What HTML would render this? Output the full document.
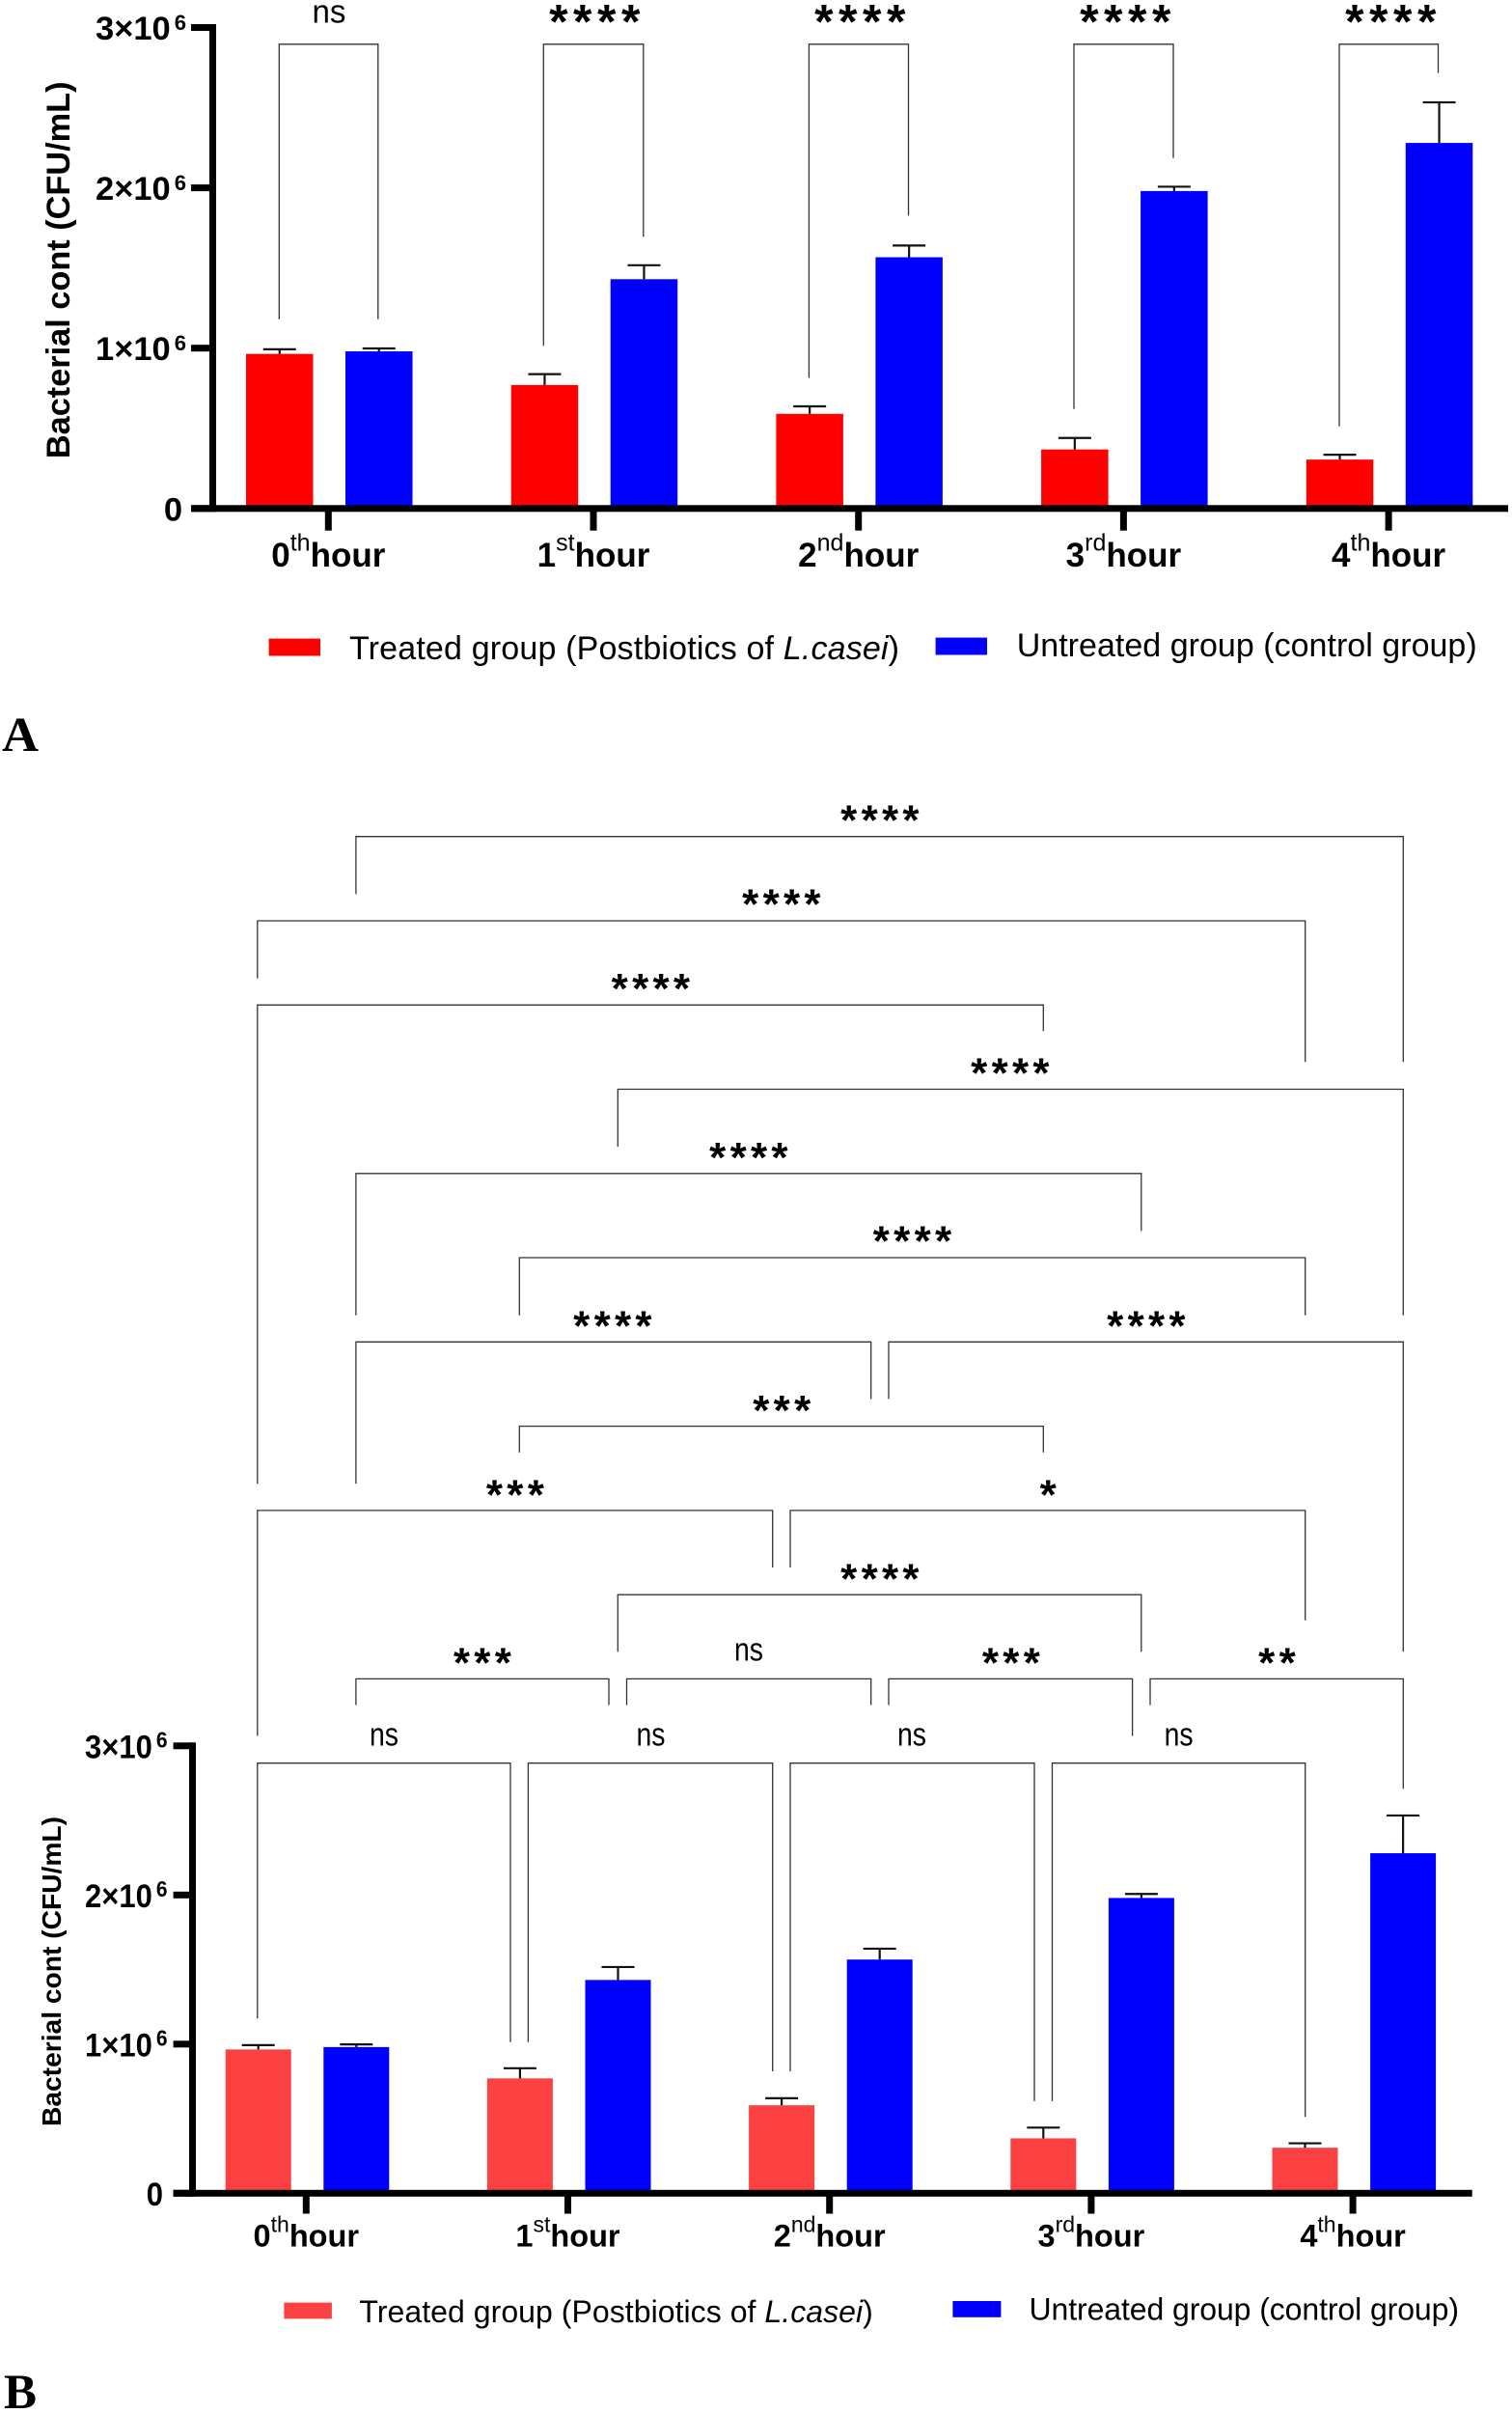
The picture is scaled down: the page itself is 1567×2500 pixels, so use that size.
<!DOCTYPE html>
<html lang="en">
<head>
<meta charset="utf-8">
<title>Bacterial count: treated vs untreated</title>
<style>
html,body{margin:0;padding:0;background:#fff;}
svg{display:block;font-family:"Liberation Sans",Arial,sans-serif;}
.br{fill:none;stroke:#333;stroke-width:1.3;}
.sa{font-size:50px;font-weight:700;letter-spacing:5.5px;text-anchor:middle;fill:#000;}
.sb{font-size:44px;font-weight:700;letter-spacing:4.3px;text-anchor:middle;fill:#000;transform:translateY(-2.5px);}
.ns{font-size:34px;text-anchor:middle;fill:#000;}
.leg{fill:#000;}
.panel{font-family:"Liberation Serif",serif;font-weight:700;font-size:51px;fill:#000;}
</style>
</head>
<body>
<svg id="fig" xmlns="http://www.w3.org/2000/svg" width="1567" height="2500" viewBox="0 0 1567 2500">
<rect x="0" y="0" width="1567" height="2500" fill="#fff"/>
<g id="chartA"></g>
<g id="chartB"></g>

<g>
<path class="br" d="M289.3 330.8V45.8H391.8V330.8"/>
<text class="ns" x="341" y="23.4" textLength="35" lengthAdjust="spacingAndGlyphs">ns</text>
<path class="br" d="M563.3 358.2V45.8H666.8V245.2"/>
<text class="sa" x="619" y="39.4">****</text>
<path class="br" d="M838.4 391.5V45.8H941.5V223.4"/>
<text class="sa" x="894" y="39.4">****</text>
<path class="br" d="M1113 423.8V45.8H1216V163.7"/>
<text class="sa" x="1169" y="39.4">****</text>
<path class="br" d="M1388 441.7V45.8H1490.5V75.6"/>
<text class="sa" x="1444" y="39.4">****</text>
</g>

<g>
<rect x="278.6" y="661.6" width="53.4" height="17.9" fill="#ff0000"/>
<text class="leg" x="362" y="683" font-size="34" textLength="570">Treated group (Postbiotics of <tspan font-style="italic">L.casei</tspan>)</text>
<rect x="969.6" y="660.6" width="53.4" height="17.9" fill="#0000ff"/>
<text class="leg" x="1053.7" y="680" font-size="34" textLength="477">Untreated group (control group)</text>
</g>
<text class="panel" x="2" y="778" textLength="38" lengthAdjust="spacingAndGlyphs">A</text>

<g>
<path class="br" d="M368.9 926.3V866.7H1454.3V1100.3"/>
<text class="sb" x="914" y="866.9">****</text>
<path class="br" d="M266.8 1013.6V954H1352.7V1100.3"/>
<text class="sb" x="812" y="954.1">****</text>
<path class="br" d="M266.8 1537.2V1041.2H1081.3V1068.3"/>
<text class="sb" x="676.5" y="1041.4">****</text>
<path class="br" d="M640.3 1188.1V1128.5H1454.3V1362.7"/>
<text class="sb" x="1049" y="1129.2">****</text>
<path class="br" d="M368.9 1362.7V1215.8H1182.8V1275.4"/>
<text class="sb" x="778" y="1216.5">****</text>
<path class="br" d="M538.3 1362.7V1303H1352.7V1362.7"/>
<text class="sb" x="947.6" y="1303.2">****</text>
<path class="br" d="M368.9 1537.2V1390.3H902.7V1449.4"/>
<text class="sb" x="637" y="1391.1">****</text>
<path class="br" d="M921 1449.4V1390.3H1454.3V1711.3"/>
<text class="sb" x="1190" y="1391.1">****</text>
<path class="br" d="M538.3 1504.7V1477.6H1081.3V1504.7"/>
<text class="sb" x="812.4" y="1478.3">***</text>
<path class="br" d="M266.8 1798.5V1564.9H800.7V1624"/>
<text class="sb" x="536" y="1566.2">***</text>
<path class="br" d="M819 1624V1564.9H1352.7V1678.7"/>
<text class="sb" x="1088.4" y="1566.2">*</text>
<path class="br" d="M640.3 1711.3V1652.2H1182.8V1711.3"/>
<text class="sb" x="914" y="1652.9">****</text>
<path class="br" d="M368.9 1766.5V1739.4H631V1766.5"/>
<text class="sb" x="502" y="1740.2">***</text>
<path class="br" d="M649.5 1766.5V1739.4H902.7V1766.5"/>
<text class="ns" x="776" y="1720.5" textLength="30" lengthAdjust="spacingAndGlyphs">ns</text>
<path class="br" d="M921 1766.5V1739.4H1173.6V1798.5"/>
<text class="sb" x="1050" y="1740.2">***</text>
<path class="br" d="M1192 1766.5V1739.4H1454.3V1853.3"/>
<text class="sb" x="1325.6" y="1740.2">**</text>
<path class="br" d="M266.8 2091.3V1826.7H529V2115.7"/>
<text class="ns" x="398" y="1808.3" textLength="30" lengthAdjust="spacingAndGlyphs">ns</text>
<path class="br" d="M547.4 2115.7V1826.7H800.7V2146"/>
<text class="ns" x="674.5" y="1808.3" textLength="30" lengthAdjust="spacingAndGlyphs">ns</text>
<path class="br" d="M819 2146V1826.7H1072V2176.9"/>
<text class="ns" x="945" y="1808.3" textLength="30" lengthAdjust="spacingAndGlyphs">ns</text>
<path class="br" d="M1090.5 2176.9V1826.7H1352.7V2193.2"/>
<text class="ns" x="1221.6" y="1808.3" textLength="30" lengthAdjust="spacingAndGlyphs">ns</text>
</g>

<g>
<rect x="294.4" y="2385.6" width="49.5" height="16.8" fill="#fb4141"/>
<text class="leg" x="372.4" y="2406.2" font-size="32" textLength="532.4">Treated group (Postbiotics of <tspan font-style="italic">L.casei</tspan>)</text>
<rect x="987.4" y="2384" width="50" height="16.8" fill="#0000ff"/>
<text class="leg" x="1066.5" y="2403.5" font-size="32" textLength="445.5">Untreated group (control group)</text>
</g>
<text class="panel" x="4" y="2495" textLength="34" lengthAdjust="spacingAndGlyphs">B</text>
</svg>

<script>
const hourNumbers = ["0", "1", "2", "3", "4"];
const hourSuffixes = ["th", "st", "nd", "rd", "th"];
const treatedMeans = [964000, 770000, 590000, 368000, 305000];
const treatedErrors = [29000, 68000, 47000, 72000, 30000];
const untreatedMeans = [980000, 1430000, 1567000, 1980000, 2280000];
const untreatedErrors = [18000, 87000, 73000, 27000, 253000];
const yTickValues = [0, 1000000, 2000000, 3000000];
const yTickBases = ["0", "1×10", "2×10", "3×10"];
const yTickExponents = ["", "6", "6", "6"];

const SVGNS = "http://www.w3.org/2000/svg";

function mk(parent, tag, attrs, text) {
  const el = document.createElementNS(SVGNS, tag);
  for (const k in attrs) el.setAttribute(k, attrs[k]);
  if (text !== undefined) el.textContent = text;
  parent.appendChild(el);
  return el;
}

function drawChart(root, p) {
  const yScale = function (v) { return p.y0 - (v / 1000000) * p.pxPerMillion; };
  const barX = function (g, s) { return p.firstBar + g * p.groupStep + s * p.seriesStep; };
  const seriesMeans = [treatedMeans, untreatedMeans];
  const seriesErrors = [treatedErrors, untreatedErrors];
  const seriesNames = ["treated", "untreated"];
  const seriesColors = [p.red, "#0000ff"];

  hourNumbers.forEach(function (num, g) {
    seriesMeans.forEach(function (means, s) {
      const x = barX(g, s);
      const top = yScale(means[g]);
      const bar = mk(root, "rect", { x: x, y: top, width: p.barW, height: p.y0 - top, fill: seriesColors[s] });
      
      
      const cx = x + p.barW / 2;
      const errTop = yScale(means[g] + seriesErrors[s][g]);
      const stem = mk(root, "line", { x1: cx, x2: cx, y1: top, y2: errTop, stroke: "#111", "stroke-width": 2.2 });
      
      
      const cap = mk(root, "line", { x1: cx - 17, x2: cx + 17, y1: errTop, y2: errTop, stroke: "#111", "stroke-width": 2.2 });
      
      
    });
  });

  const yAxis = mk(root, "rect", { x: p.axisX - p.thick / 2, y: yScale(3000000) - p.thick / 2, width: p.thick, height: p.y0 - yScale(3000000) + p.thick, fill: "#000" });
  
  
  const xAxis = mk(root, "rect", { x: p.tickLeft, y: p.y0 - p.thick / 2, width: p.axisEnd - p.tickLeft, height: p.thick, fill: "#000" });
  
  

  yTickValues.forEach(function (v, i) {
    const y = yScale(v);
    const tick = mk(root, "rect", { x: p.tickLeft, y: y - p.thick / 2, width: p.axisX - p.tickLeft, height: p.thick, fill: "#000" });
    
    
    const lx = yTickExponents[i] ? p.tickLabelRight : p.zeroLabelRight;
    const ly = y + p.tickLabelDrop;
    const label = mk(root, "text", { transform: "translate(" + lx + " " + ly + ") scale(1 " + p.tickStretch + ")", "text-anchor": "end", "font-size": p.tickFont, "font-weight": 700 });
    
    
    label.textContent = yTickBases[i];
    if (yTickExponents[i]) {
      const sup = mk(label, "tspan", { dx: 4, dy: -10, "font-size": p.supFont, "font-weight": 700 }, yTickExponents[i]);
      
      
    }
  });

  hourNumbers.forEach(function (num, g) {
    const x = p.firstTick + g * p.groupStep;
    const tick = mk(root, "rect", { x: x - p.thick / 2, y: p.y0, width: p.thick, height: p.xTickEnd - p.y0, fill: "#000" });
    
    
    const label = mk(root, "text", { x: x, y: p.catBase, "text-anchor": "middle", "font-size": p.catFont, "font-weight": 700 });
    
    
    mk(label, "tspan", {}, num);
    mk(label, "tspan", { dy: -p.catSupRise, "font-size": p.catSupFont, "font-weight": 400 }, hourSuffixes[g]);
    mk(label, "tspan", { dy: p.catSupRise }, "hour");
  });

  const title = mk(root, "text", { transform: "translate(" + p.titleX + " " + p.titleY + ") rotate(-90)", "text-anchor": "middle", "font-size": p.titleFont, "font-weight": 700 }, "Bacterial cont (CFU/mL)");
  
  
}

drawChart(document.getElementById("chartA"), {
  y0: 526.8, pxPerMillion: 166.1, firstBar: 255, groupStep: 274.7, seriesStep: 103, barW: 69.5,
  red: "#ff0000", axisX: 220.5, thick: 7, tickLeft: 198, axisEnd: 1563,
  tickLabelRight: 193, zeroLabelRight: 189, tickLabelDrop: 12.5, tickFont: 34.5, supFont: 22, tickStretch: 1,
  firstTick: 340.3, xTickEnd: 549.7, catBase: 587, catFont: 35, catSupFont: 25, catSupRise: 16.4,
  titleX: 72, titleY: 279.8, titleFont: 34.3
});

drawChart(document.getElementById("chartB"), {
  y0: 2272.3, pxPerMillion: 154.5, firstBar: 233.7, groupStep: 271.2, seriesStep: 101.6, barW: 68,
  red: "#fb4141", axisX: 199.5, thick: 7, tickLeft: 179.6, axisEnd: 1525.7,
  tickLabelRight: 173.5, zeroLabelRight: 169, tickLabelDrop: 12.5, tickFont: 31, supFont: 21, tickStretch: 1.1,
  firstTick: 317.3, xTickEnd: 2293.5, catBase: 2327.6, catFont: 32.5, catSupFont: 23, catSupRise: 15.2,
  titleX: 63, titleY: 2042.5, titleFont: 28.2
});
</script>
</body>
</html>
